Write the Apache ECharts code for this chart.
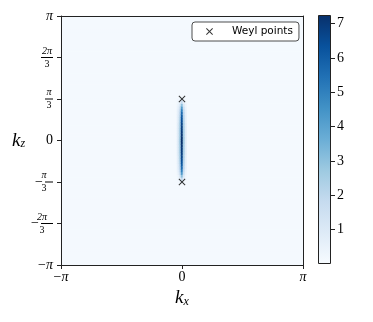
<!DOCTYPE html>
<html>
<head>
<meta charset="utf-8">
<script src="https://cdn.jsdelivr.net/npm/echarts@6/dist/echarts.min.js"></script>
<style>
html,body{margin:0;padding:0;background:#fff;}
#main{width:373px;height:322px;}
</style>
</head>
<body>
<div id="main"></div>
<script>
var PI = Math.PI;

// grid of the map: 121 columns in kx, 91 rows in kz, both from -pi to pi
var nCols = 121;
var nRows = 91;
var baseLevel = 0.1;          // almost flat background
var lineCol = 60;             // kx = 0
var lineRowStart = 30;        // kz = -pi/3

// values along the bright line, kz from -pi/3 to pi/3
var lineCenter = [0.8,1.8,3.0,4.2,5.0,5.6,6.0,6.3,6.5,6.7,6.8,6.9,7.0,7.1,7.2,7.25,
                  7.2,7.1,7.0,6.9,6.8,6.7,6.5,6.3,6.0,5.6,5.0,4.2,3.0,1.8,0.8];
var lineSide1 = [0.3,0.6,1.0,1.4,1.7,1.9,2.0,2.1,2.2,2.3,2.3,2.4,2.4,2.4,2.5,2.5,
                 2.5,2.4,2.4,2.4,2.3,2.3,2.2,2.1,2.0,1.9,1.7,1.4,1.0,0.6,0.3];
var lineSide2 = [0.15,0.2,0.3,0.4,0.5,0.6,0.6,0.7,0.7,0.7,0.8,0.8,0.8,0.8,0.8,0.8,
                 0.8,0.8,0.8,0.8,0.8,0.8,0.7,0.7,0.7,0.6,0.6,0.5,0.4,0.3,0.2];

var weylPoints = [[0, PI/3], [0, -PI/3]];

var xTickValues = [-PI, 0, PI];
var xTickLabels = ['{m|−}{p|π}', '{z|0}', '{p|π}'];
var yTickValues = [-PI, -2*PI/3, -PI/3, 0, PI/3, 2*PI/3, PI];
var yTickLabels = ['{m|−}{p|π}',
                   '{n2|2π}\n{mm|−}{b2| }\n{d2|3}',
                   '{n1|π}\n{mm|−}{b1| }\n{d1|3}',
                   '{z|0}',
                   '{n1|π}\n{b1| }\n{d1|3}',
                   '{n2|2π}\n{b2| }\n{d2|3}',
                   '{p|π}'];

var cbTicks = [1,2,3,4,5,6,7];
var cbMin = 0;
var cbMax = 7.25;

var blues = ['#f7fbff','#deebf7','#c6dbef','#9ecae1','#6baed6','#4292c6','#2171b5','#08519c','#08306b'];

var serif = 'Liberation Serif';

var xCats = [], yCats = [];
for (var i = 0; i < nCols; i++) xCats.push(i);
for (var j = 0; j < nRows; j++) yCats.push(j);

var mapData = [];
for (var i = 0; i < nCols; i++) {
	for (var j = 0; j < nRows; j++) {
		var v = baseLevel;
		var k = j - lineRowStart;
		if (k >= 0 && k < lineCenter.length) {
			var d = Math.abs(i - lineCol);
			if (d == 0) v = lineCenter[k];
			else if (d == 1) v = lineSide1[k];
			else if (d == 2) v = lineSide2[k];
		}
		mapData.push([i, j, v]);
	}
}

function pickLabel(vals, labels, v) {
	for (var i = 0; i < vals.length; i++) {
		if (Math.abs(vals[i] - v) < 1e-6) return labels[i];
	}
	return '';
}

var fracRich = {
	p: {fontFamily: serif, fontStyle: 'italic', fontSize: 14, color: '#000'},
	z: {fontFamily: serif, fontSize: 14, color: '#000'},
	m: {fontFamily: serif, fontSize: 14, color: '#000'},
	mm: {fontFamily: serif, fontSize: 14, lineHeight: 3, color: '#000', padding: [0, 2, 0, 0]},
	n1: {fontFamily: serif, fontStyle: 'italic', fontSize: 10, lineHeight: 10, width: 8, align: 'center', color: '#000'},
	d1: {fontFamily: serif, fontSize: 10, lineHeight: 10, width: 8, align: 'center', color: '#000'},
	b1: {width: 8, height: 1, lineHeight: 3, backgroundColor: '#000', fontSize: 1},
	n2: {fontFamily: serif, fontStyle: 'italic', fontSize: 10, lineHeight: 10, width: 12, align: 'center', color: '#000'},
	d2: {fontFamily: serif, fontSize: 10, lineHeight: 10, width: 12, align: 'center', color: '#000'},
	b2: {width: 12, height: 1, lineHeight: 3, backgroundColor: '#000', fontSize: 1}
};

var crossPath = 'path://M1,0L5,4L9,0L10,1L6,5L10,9L9,10L5,6L1,10L0,9L4,5L0,1Z';

var chart = echarts.init(document.getElementById('main'));
var option = {
	animation: false,
	backgroundColor: '#fff',
	grid: [
		{left: 61, top: 16, width: 242, height: 249, containLabel: false},
		{left: 318, top: 15, width: 13, height: 249, containLabel: false}
	],
	visualMap: {
		show: false,
		seriesIndex: 0,
		min: cbMin,
		max: cbMax,
		inRange: {color: blues}
	},
	legend: {
		data: ['Weyl points'],
		left: 192,
		top: 22,
		orient: 'vertical',
		icon: crossPath,
		itemWidth: 7,
		itemHeight: 7,
		padding: [4, 6, 4, 14],
		backgroundColor: '#fff',
		borderColor: '#222',
		borderWidth: 0.8,
		borderRadius: 3,
		textStyle: {fontFamily: 'DejaVu Sans', fontSize: 10.5, color: '#000', padding: [0, 0, 0, 14]}
	},
	xAxis: [
		{type: 'category', gridIndex: 0, data: xCats, show: false},
		{
			type: 'value', gridIndex: 0, min: -PI, max: PI, position: 'bottom', z: 5,
			axisLine: {show: true, onZero: false, lineStyle: {color: '#222', width: 1}},
			axisTick: {show: true, length: 4, customValues: xTickValues, lineStyle: {color: '#222'}},
			axisLabel: {
				customValues: xTickValues, margin: 5, showMinLabel: true, showMaxLabel: true,
				formatter: function (v) { return pickLabel(xTickValues, xTickLabels, v); },
				rich: fracRich
			},
			splitLine: {show: false},
			name: '{k|k}{s|x}',
			nameLocation: 'middle',
			nameGap: 22,
			nameTextStyle: {
				rich: {
					k: {fontFamily: serif, fontStyle: 'italic', fontSize: 19, lineHeight: 18, color: '#000'},
					s: {fontFamily: serif, fontStyle: 'italic', fontSize: 12, lineHeight: 11, verticalAlign: 'bottom', padding: [5, 0, 0, 0], color: '#000'}
				}
			}
		},
		{
			type: 'value', gridIndex: 0, min: -PI, max: PI, position: 'top', z: 5,
			axisLine: {show: true, onZero: false, lineStyle: {color: '#222', width: 1}},
			axisTick: {show: false}, axisLabel: {show: false}, splitLine: {show: false}
		},
		{type: 'category', gridIndex: 1, data: ['cb'], show: false}
	],
	yAxis: [
		{type: 'category', gridIndex: 0, data: yCats, show: false},
		{
			type: 'value', gridIndex: 0, min: -PI, max: PI, position: 'left', z: 5,
			axisLine: {show: true, onZero: false, lineStyle: {color: '#222', width: 1}},
			axisTick: {show: true, length: 4, customValues: yTickValues, lineStyle: {color: '#222'}},
			axisLabel: {
				customValues: yTickValues, margin: 8, showMinLabel: true, showMaxLabel: true,
				formatter: function (v) { return pickLabel(yTickValues, yTickLabels, v); },
				rich: fracRich
			},
			splitLine: {show: false},
			name: '{k|k}{s|z}',
			nameLocation: 'middle',
			nameRotate: 0,
			nameGap: 33,
			nameTextStyle: {
				rich: {
					k: {fontFamily: serif, fontStyle: 'italic', fontSize: 19, lineHeight: 18, color: '#000'},
					s: {fontFamily: serif, fontStyle: 'italic', fontSize: 12, lineHeight: 11, verticalAlign: 'bottom', padding: [5, 0, 0, 0], color: '#000'}
				}
			}
		},
		{
			type: 'value', gridIndex: 0, min: -PI, max: PI, position: 'right', z: 5,
			axisLine: {show: true, onZero: false, lineStyle: {color: '#222', width: 1}},
			axisTick: {show: false}, axisLabel: {show: false}, splitLine: {show: false}
		},
		{
			type: 'value', gridIndex: 1, min: cbMin, max: cbMax, position: 'right', z: 5,
			axisLine: {show: false},
			axisTick: {show: true, length: 4, customValues: cbTicks, lineStyle: {color: '#222'}},
			axisLabel: {customValues: cbTicks, margin: 6, fontFamily: serif, fontSize: 14, color: '#000'},
			splitLine: {show: false}
		}
	],
	series: [
		{
			name: 'map',
			type: 'heatmap',
			xAxisIndex: 0,
			yAxisIndex: 0,
			data: mapData,
			progressive: 0,
			emphasis: {disabled: true}
		},
		{
			name: 'Weyl points',
			type: 'scatter',
			xAxisIndex: 1,
			yAxisIndex: 1,
			symbol: crossPath,
			symbolSize: 7,
			itemStyle: {color: '#000'},
			data: weylPoints,
			z: 6
		},
		{
			name: 'colorbar',
			type: 'bar',
			xAxisIndex: 3,
			yAxisIndex: 3,
			barWidth: '100%',
			data: [cbMax],
			itemStyle: {
				color: new echarts.graphic.LinearGradient(0, 1, 0, 0, blues.map(function (c, i) {
					return {offset: i / (blues.length - 1), color: c};
				})),
				borderColor: '#222',
				borderWidth: 1
			},
			silent: true
		}
	]
};
chart.setOption(option);
</script>
</body>
</html>
